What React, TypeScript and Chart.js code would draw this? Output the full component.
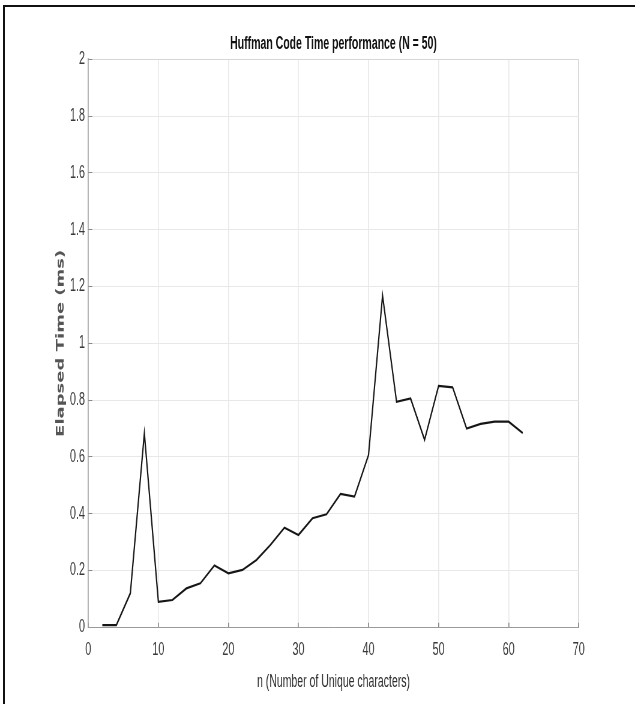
import React, { useEffect, useRef } from "react";
import { Chart, registerables } from "chart.js";

Chart.register(...registerables);

// ---- data ----
const nUnique = [2, 4, 6, 8, 10, 12, 14, 16, 18, 20, 22, 24, 26, 28, 30, 32, 34, 36, 38, 40, 42, 44, 46, 48, 50, 52, 54, 56, 58, 60, 62];
const elapsedMs = [0.008, 0.008, 0.12, 0.683, 0.09, 0.096, 0.137, 0.155, 0.218, 0.19, 0.202, 0.237, 0.29, 0.351, 0.325, 0.384, 0.398, 0.47, 0.46, 0.607, 1.168, 0.794, 0.806, 0.66, 0.85, 0.845, 0.7, 0.716, 0.724, 0.724, 0.684];
const xTickLabels = ["0", "10", "20", "30", "40", "50", "60", "70"];
const yTickLabels = ["0", "0.2", "0.4", "0.6", "0.8", "1", "1.2", "1.4", "1.6", "1.8", "2"];
const chartTitle = "Huffman Code Time performance (N = 50)";
const xTitle = "n (Number of Unique characters)";
const yTitle = "Elapsed Time (ms)";

// The reference picture is horizontally squeezed; draw on a wider canvas and
// display it at 635px wide.
const DISPLAY_W = 635;
const DISPLAY_H = 704;
const LOGICAL_W = 1058;
const SX = DISPLAY_W / LOGICAL_W;

const SANS = "'Liberation Sans', Arial, sans-serif";

export default function App() {
  const canvasRef = useRef<HTMLCanvasElement | null>(null);

  useEffect(() => {
    const canvas = canvasRef.current;
    if (!canvas) return;
    const points = nUnique.map((n, i) => ({ x: n, y: elapsedMs[i] }));
    const chart = new Chart(canvas, {
      type: "line",
      data: {
        datasets: [
          {
            data: points,
            borderColor: "#161616",
            borderWidth: 2.2,
            pointRadius: 0,
            tension: 0,
            fill: false,
          },
        ],
      },
      options: {
        animation: false,
        responsive: false,
        devicePixelRatio: 1,
        layout: { padding: { left: 0, right: LOGICAL_W - 578.7 / SX, top: 0, bottom: 0 } },
        plugins: {
          legend: { display: false },
          tooltip: { enabled: false },
          title: {
            display: true,
            text: chartTitle,
            fullSize: false,
            color: "#111111",
            font: { family: SANS, size: 17.5, weight: "bold", lineHeight: 1.2 },
            padding: { top: 33.5, bottom: 4.8 },
          },
        },
        scales: {
          x: {
            type: "linear",
            min: 0,
            max: 70,
            afterFit: (scale: any) => {
              scale.height = DISPLAY_H - 627.3;
            },
            ticks: {
              stepSize: 10,
              color: "#3a3a3a",
              font: { family: SANS, size: 18 },
              padding: 16.2,
              maxRotation: 0,
              callback: (_v: any, i: number) => xTickLabels[i],
            },
            grid: {
              color: (ctx: any) => (ctx.tick && ctx.tick.value === 70 ? "#d6d6d6" : "#e8e8e8"),
              lineWidth: 1 / SX,
              tickLength: -4.5,
              tickColor: "#888888",
              tickWidth: 1 / SX,
            },
            border: { display: true, color: "#9a9a9a", width: 1 },
            title: {
              display: true,
              text: xTitle,
              color: "#2e2e2e",
              font: { family: SANS, size: 17.5, lineHeight: 1.2 },
              padding: { top: 0, bottom: 11.5 },
            },
          },
          y: {
            type: "linear",
            min: 0,
            max: 2,
            afterFit: (scale: any) => {
              scale.width = 88.3 / SX;
            },
            ticks: {
              stepSize: 0.2,
              color: "#3a3a3a",
              font: { family: SANS, size: 18 },
              padding: 5.5 + 4 / SX,
              callback: (_v: any, i: number) => yTickLabels[i],
            },
            grid: {
              color: (ctx: any) => (ctx.tick && Math.abs(ctx.tick.value - 2) < 1e-9 ? "#d6d6d6" : "#e8e8e8"),
              lineWidth: 1,
              tickLength: -4 / SX,
              tickColor: "#888888",
              tickWidth: 1,
            },
            border: { display: true, color: "#9a9a9a", width: 1 / SX },
            title: {
              display: true,
              text: yTitle,
              color: "#555555",
              font: { family: "'DejaVu Sans', sans-serif", size: 18, weight: "bold", lineHeight: 1.2 },
              padding: { top: 61 / SX - 10.8, bottom: 0 },
            },
          },
        },
      },
    });
    return () => chart.destroy();
  }, []);

  return (
    <div style={{ position: "absolute", left: 0, top: 0, width: DISPLAY_W, height: DISPLAY_H, background: "#fff", overflow: "hidden" }}>
      <canvas
        ref={canvasRef}
        width={LOGICAL_W}
        height={DISPLAY_H}
        style={{ position: "absolute", left: 0, top: 0, width: DISPLAY_W + "px", height: DISPLAY_H + "px", display: "block" }}
      />
      <div
        style={{
          position: "absolute",
          left: 3,
          top: 5,
          right: 0,
          bottom: 0,
          borderLeft: "2px solid #111",
          borderTop: "2px solid #111",
          pointerEvents: "none",
        }}
      />
    </div>
  );
}
